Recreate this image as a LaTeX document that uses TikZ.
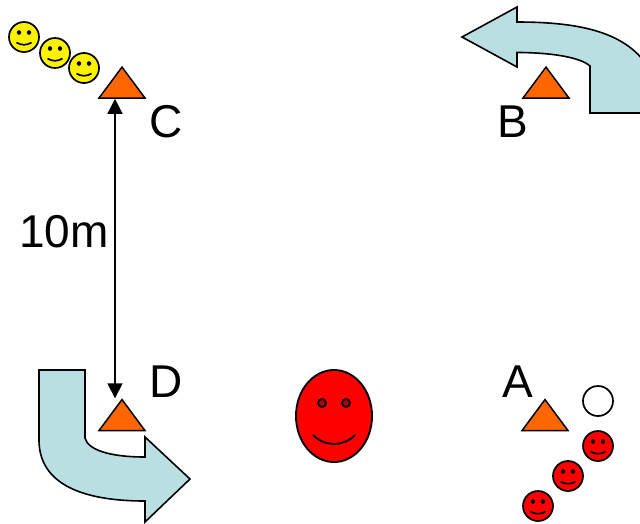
\documentclass[tikz,border=0pt]{standalone}
\usepackage{fontspec}
\setmainfont{Liberation Sans}
\usetikzlibrary{shapes.geometric,arrows.meta}
\definecolor{conecolor}{HTML}{FF6600}
\definecolor{turncolor}{HTML}{BADFE3}
\tikzset{
	cone/.style={isosceles triangle, isosceles triangle apex angle=73.2, shape border rotate=90, draw=black, fill=conecolor, line width=1.5pt, inner sep=0pt, minimum height=31pt, minimum width=46pt, isosceles triangle stretches=true},
	turn/.style={draw=black, fill=turncolor, line width=1.6pt},
	letter/.style={font=\fontsize{46}{46}\selectfont, inner sep=0pt, anchor=base west},
	smiley/.pic={
		\filldraw[line width=1.7pt, fill=#1] (0,0) circle (15);
		\foreach \x in {-5, 5} {
			\filldraw[fill=black, draw=black] (\x,-4.5) circle (2);
		}
		\draw[line width=1.7pt] (-7.5,5.5) .. controls (-3,8.5) and (3,8.5) .. (7.5,5.5);
	}
}
\begin{document}
\begin{tikzpicture}[x=1pt, y=-1pt]
			\useasboundingbox (0,0) rectangle (640,523);
			% turning arrows
			\filldraw[turn] (462,37) -- (517,7) -- (517,22) .. controls (580,22) and (628,32) .. (650,70) -- (650,113) -- (590,113) -- (590,66) .. controls (580,57) and (550,52.5) .. (517,52.5) -- (517,67) -- cycle;
			\filldraw[turn] (39,370) -- (85,370) -- (85,438) .. controls (88,450) and (110,457) .. (145,457) -- (145,437) -- (190,479) -- (145,522) -- (145,501) .. controls (75,501) and (39,480) .. (39,440) -- cycle;
			% cones
			\node[cone] (coneA) at (545,419) {};
			\node[cone] (coneB) at (546,86.5) {};
			\node[cone] (coneC) at (122,86.5) {};
			\node[cone] (coneD) at (122,419) {};
			\draw[{Triangle[length=15pt,width=15pt]}-{Triangle[length=15pt,width=15pt]}, line width=1.5pt] ([xshift=-7pt]coneC.south) -- ([xshift=-7pt]coneD.north);
			% players
			\foreach \x/\y in {24/37, 55/53, 84/68} {
				\pic at (\x,\y) {smiley=yellow};
			}
			\foreach \x/\y in {598/446, 568/476, 538/506} {
				\pic at (\x,\y) {smiley=red};
			}
			\draw[line width=1.7pt] (598,401) circle (15);
			% big face
			\filldraw[line width=1.9pt, fill=red] (334,416) ellipse (38 and 46);
			\foreach \x in {322, 346} {
				\filldraw[line width=1.8pt, fill=black!30!red] (\x,403) circle (4);
			}
			\draw[line width=1.9pt] (313,435) .. controls (325,447) and (343,447) .. (355,435);
			% labels
			\node[letter] (labelA) at (502,397) {A};
			\node[letter] (labelB) at (497,137) {B};
			\node[letter] (labelC) at (149,137) {C};
			\node[letter] (labelD) at (149,397) {D};
			\node[letter] (labelDist) at (19,247) {10m};
\end{tikzpicture}
\end{document}
